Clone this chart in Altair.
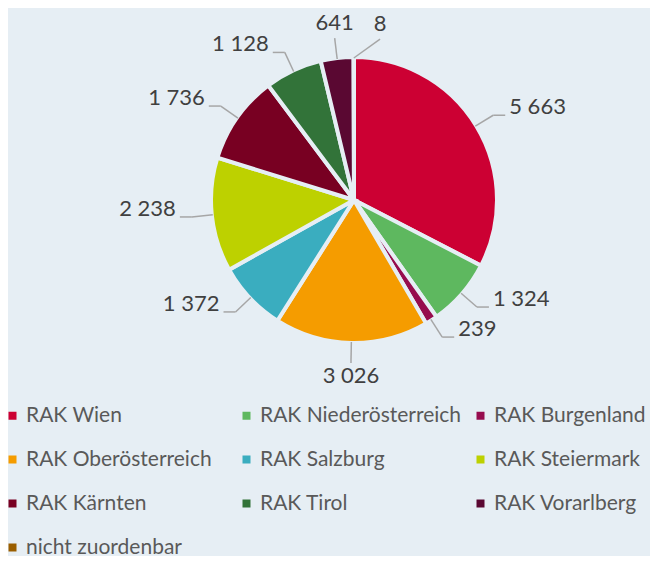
import altair as alt
import pandas as pd
import numpy as np

categories = ["RAK Wien", "RAK Niederösterreich", "RAK Burgenland", "RAK Oberösterreich",
              "RAK Salzburg", "RAK Steiermark", "RAK Kärnten", "RAK Tirol",
              "RAK Vorarlberg", "nicht zuordenbar"]
values = [5663, 1324, 239, 3026, 1372, 2238, 1736, 1128, 641, 8]
value_labels = ["5 663", "1 324", "239", "3 026", "1 372", "2 238", "1 736", "1 128", "641", "8"]
colors = ["#cc0033", "#5eb85f", "#960c4e", "#f59c00", "#3aadbf", "#bdd100",
          "#780022", "#327339", "#5a0832", "#9a5e00"]

W, H = 642, 548
CX, CY = 346, 192
R_PIE = 141
R_LAB = 163
BG = "#e6eef4"
FONT = "Lato"
FS = 22

vals = np.array(values, float)
cum = np.cumsum(vals)
start = (cum - vals) / cum[-1] * 360
end = cum / cum[-1] * 360
mid = (start + end) / 2
lab = mid.copy()
MIN_GAP = 16
for i in range(1, len(lab)):
    if lab[i] - lab[i - 1] < MIN_GAP:
        lab[i] = lab[i - 1] + MIN_GAP

rm = np.radians(mid)
rl = np.radians(lab)
x0 = (R_PIE + 1) * np.sin(rm)
y0 = (R_PIE + 1) * np.cos(rm)
x1 = R_LAB * np.sin(rl)
y1 = R_LAB * np.cos(rl)
side = np.where(np.sin(rl) > 0.2, 1, np.where(np.sin(rl) < -0.2, -1, 0))
x2 = x1 + side * 12
y2 = y1
tx = np.where(side != 0, x2 + side * 4, x1)
ty = np.where(side != 0, y1 + 8, np.where(np.cos(rl) > 0, y1 + 3, y1 - 3))
grp = np.where(side > 0, "left", np.where(side < 0, "right",
               np.where(np.cos(rl) > 0, "cbottom", "ctop")))

pie_df = pd.DataFrame({"cat": categories, "value": values, "idx": range(len(values))})
lab_df = pd.DataFrame({"cat": categories, "label": value_labels,
                       "x0": x0, "y0": y0, "x1": x1, "y1": y1, "x2": x2, "y2": y2,
                       "tx": tx, "ty": ty, "grp": grp})

xs = alt.Scale(domain=[-CX, W - CX], nice=False, zero=False)
ys = alt.Scale(domain=[-(H - CY), CY], nice=False, zero=False)

legend = alt.Legend(orient="none", legendX=-6, legendY=397, columns=3, direction="horizontal",
                    title=None,
                    symbolType="square", symbolSize=64, symbolStrokeWidth=0,
                    labelFont=FONT, labelFontSize=21, labelColor="#595959",
                    labelOffset=3, labelLimit=400, gridAlign="all",
                    columnPadding=8, rowPadding=22)

pie = alt.Chart(pie_df).mark_arc(radius=R_PIE + 2, stroke=BG, strokeWidth=4).encode(
    theta=alt.Theta("value:Q", stack=True),
    order=alt.Order("idx:Q"),
    color=alt.Color("cat:N", scale=alt.Scale(domain=categories, range=colors), legend=legend),
    x=alt.value(CX),
    y=alt.value(CY),
)

lead1 = alt.Chart(lab_df).mark_rule(color="#a6a6a6", strokeWidth=1.5).encode(
    x=alt.X("x0:Q", scale=xs, axis=None), y=alt.Y("y0:Q", scale=ys, axis=None),
    x2="x1:Q", y2="y1:Q")
lead2 = alt.Chart(lab_df).transform_filter("datum.grp == 'left' || datum.grp == 'right'").mark_rule(
    color="#a6a6a6", strokeWidth=1.5).encode(
    x=alt.X("x1:Q", scale=xs, axis=None), y=alt.Y("y1:Q", scale=ys, axis=None),
    x2="x2:Q", y2="y2:Q")

def text_layer(g, align, baseline):
    return alt.Chart(lab_df).transform_filter(f"datum.grp == '{g}'").mark_text(
        align=align, baseline=baseline, font=FONT, fontSize=FS, color="#404040").encode(
        x=alt.X("tx:Q", scale=xs, axis=None), y=alt.Y("ty:Q", scale=ys, axis=None),
        text="label:N")

chart = alt.layer(
    pie, lead1, lead2,
    text_layer("left", "left", "middle"),
    text_layer("right", "right", "middle"),
    text_layer("cbottom", "center", "bottom"),
    text_layer("ctop", "center", "top"),
).properties(
    width=W, height=H, autosize=alt.AutoSizeParams(type="none"), padding=0
).configure(background=BG).configure_view(stroke=None)

chart.save("out.html", embed_options={"renderer": "svg", "actions": False})
